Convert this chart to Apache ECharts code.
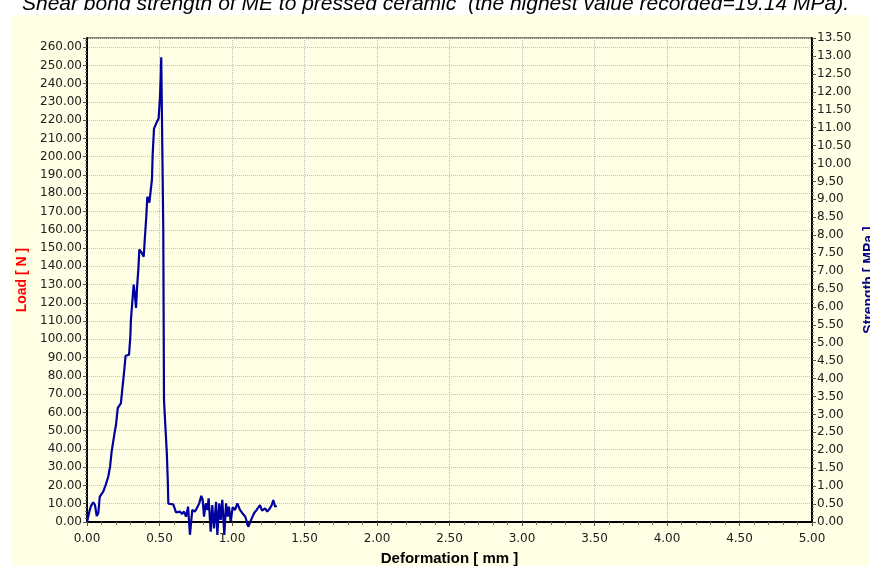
<!DOCTYPE html>
<html>
<head>
<meta charset="utf-8">
<script src="https://cdn.jsdelivr.net/npm/echarts@6/dist/echarts.min.js"></script>
<style>html,body{margin:0;padding:0;background:#fff;}#c{width:870px;height:566px;}</style>
</head>
<body>
<div id="c"></div>
<script>
// Deformation [mm]
const deformation = [0, 0.019, 0.028, 0.043, 0.055, 0.067, 0.078, 0.088, 0.112, 0.129, 0.147, 0.159, 0.170, 0.188, 0.200, 0.212, 0.234, 0.243, 0.257, 0.266, 0.290, 0.299, 0.303, 0.312, 0.322, 0.331, 0.338, 0.345, 0.354, 0.361, 0.377, 0.391, 0.400, 0.409, 0.416, 0.430, 0.443, 0.448, 0.453, 0.462, 0.480, 0.494, 0.503, 0.508, 0.512, 0.522, 0.526, 0.531, 0.540, 0.550, 0.557, 0.561, 0.595, 0.614, 0.641, 0.655, 0.669, 0.683, 0.697, 0.710, 0.726, 0.743, 0.757, 0.774, 0.788, 0.798, 0.807, 0.819, 0.830, 0.839, 0.853, 0.864, 0.876, 0.890, 0.899, 0.912, 0.922, 0.933, 0.947, 0.959, 0.970, 0.979, 0.991, 1.005, 1.021, 1.037, 1.055, 1.069, 1.092, 1.112, 1.136, 1.154, 1.170, 1.193, 1.207, 1.228, 1.243, 1.262, 1.274, 1.285, 1.297, 1.308];
// Load [N]
const load = [0, 6.6, 8.8, 10.8, 9.3, 3.3, 4.8, 13.9, 16.6, 20.3, 24.9, 30.3, 38.6, 47.7, 53.2, 62.4, 65.1, 72.4, 83.0, 91.0, 91.6, 101.7, 110.8, 120.0, 130.0, 123.6, 117.2, 128.2, 138.2, 149.2, 147.4, 145.2, 156.5, 167.5, 178.1, 174.8, 175.2, 187.6, 201.3, 215.4, 218.7, 220.9, 232.4, 242.5, 254.4, 253.8, 161.0, 67.0, 53.2, 38.6, 23.0, 10.0, 9.7, 5.3, 5.7, 4.4, 5.7, 2.9, 8.4, -7.0, 6.6, 5.7, 7.5, 10.2, 14.3, 12.1, 2.9, 10.2, 6.6, 13.0, -5.3, 9.3, -3.5, 11.1, -7.1, 10.2, 1.1, 12.1, -7.1, 10.2, 2.9, 8.4, 0.2, 8.1, 6.6, 10.2, 6.6, 5.1, 2.9, -2.6, 2.0, 5.1, 6.6, 9.3, 6.2, 7.5, 5.7, 7.5, 9.3, 12.0, 8.4, 8.9];

const titleText = 'Shear bond strength of ME to pressed ceramic  (the highest value recorded=19.14 MPa).';
const xAxisName = 'Deformation [ mm ]';
const leftAxisName = 'Load [ N ]';
const rightAxisName = 'Strength [ MPa ]';

const points = deformation.map((d, i) => [d, load[i]]);
const labelFont = { fontFamily: 'DejaVu Sans', fontSize: 12, color: '#202020' };

const chart = echarts.init(document.getElementById('c'));
chart.setOption({
  animation: false,
  backgroundColor: '#ffffff',
  graphic: [
    { type: 'rect', z: -10, silent: true, shape: { x: 11, y: 15, width: 859, height: 551 }, style: { fill: '#FFFFE6' } },
    { type: 'text', z: 10, silent: true, style: { text: titleText, x: 22, y: 15, verticalAlign: 'bottom', font: 'italic 21px "Liberation Sans", Arial, sans-serif', fill: '#000' } }
  ],
  grid: { left: 87, right: 58, top: 38, bottom: 44, outerBoundsMode: 'none', containLabel: false, show: true, borderColor: '#000', borderWidth: 1, backgroundColor: 'transparent' },
  xAxis: {
    type: 'value', min: 0, max: 5, interval: 0.5,
    name: xAxisName, nameLocation: 'middle', nameGap: 29,
    nameTextStyle: { fontFamily: 'Liberation Sans', fontWeight: 'bold', fontSize: 15, color: '#000' },
    axisLine: { show: true, onZero: false, lineStyle: { color: '#000', width: 2 } },
    axisTick: { show: true, length: 4, lineStyle: { color: '#555' } },
    minorTick: { show: true, splitNumber: 5, length: 3, lineStyle: { color: '#777' } },
    axisLabel: Object.assign({ margin: 11, formatter: v => v.toFixed(2) }, labelFont),
    splitLine: { show: true, lineStyle: { color: '#b8b8b8', type: 'dotted', width: 1 } }
  },
  yAxis: [
    {
      type: 'value', min: 0, max: 265, interval: 10, position: 'left',
      name: leftAxisName, nameLocation: 'middle', nameGap: 58, nameRotate: 90,
      nameTextStyle: { fontFamily: 'Liberation Sans', fontWeight: 'bold', fontSize: 14, color: '#FF0000' },
      axisLine: { show: true, lineStyle: { color: '#000', width: 2 } },
      axisTick: { show: true, length: 4, lineStyle: { color: '#555' } },
      minorTick: { show: true, splitNumber: 5, length: 2, lineStyle: { color: '#777' } },
      axisLabel: Object.assign({ margin: 5, showMaxLabel: false, formatter: v => v.toFixed(2) }, labelFont),
      splitLine: { show: true, lineStyle: { color: '#c4c4c4', type: 'dotted', width: 1 } }
    },
    {
      type: 'value', min: 0, max: 13.5, interval: 0.5, position: 'right',
      name: rightAxisName, nameLocation: 'middle', nameGap: 47, nameRotate: 90,
      nameTextStyle: { fontFamily: 'Liberation Sans', fontWeight: 'bold', fontSize: 14, color: '#000080', verticalAlign: 'top' },
      axisLine: { show: true, lineStyle: { color: '#000', width: 2 } },
      axisTick: { show: true, length: 4, lineStyle: { color: '#555' } },
      minorTick: { show: true, splitNumber: 5, length: 2, lineStyle: { color: '#777' } },
      axisLabel: Object.assign({ margin: 5, formatter: v => v.toFixed(2) }, labelFont),
      splitLine: { show: false }
    }
  ],
  series: [{
    type: 'line', yAxisIndex: 0, data: points, showSymbol: false, clip: false,
    lineStyle: { color: '#0000A0', width: 2.2 }, z: 5
  }]
});
</script>
</body>
</html>
